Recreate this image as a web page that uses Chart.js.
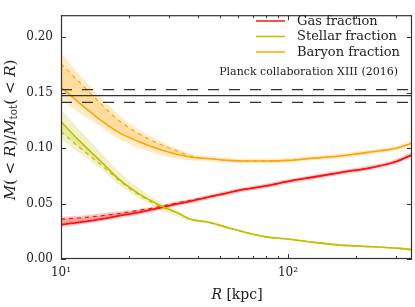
<!DOCTYPE html>
<html><head><meta charset="utf-8">
<script src="https://cdn.jsdelivr.net/npm/chart.js@4"></script>
<style>html,body{margin:0;padding:0;background:#fff}canvas{display:block}</style>
</head><body>
<canvas id="c" width="415" height="307"></canvas>
<script>
// ---------- data ----------
const R = [10, 12, 15, 18, 22, 27, 33, 37, 45, 55, 65, 80, 100, 130, 170, 240, 300, 352];

const GAS        = [0.031, 0.033, 0.036, 0.039, 0.042, 0.046, 0.050, 0.052, 0.056, 0.060, 0.063, 0.066, 0.070, 0.074, 0.078, 0.083, 0.088, 0.094];
const GAS_ALT    = [0.036, 0.037, 0.039, 0.041, 0.044, 0.047, 0.051, 0.053, 0.056, 0.060, 0.063, 0.066, 0.070, 0.074, 0.078, 0.083, 0.088, 0.094];
const GAS_HI     = [0.038, 0.039, 0.041, 0.043, 0.045, 0.048, 0.052, 0.054, 0.058, 0.062, 0.065, 0.068, 0.072, 0.076, 0.080, 0.085, 0.090, 0.097];
const GAS_LO     = [0.029, 0.031, 0.034, 0.037, 0.040, 0.044, 0.048, 0.050, 0.054, 0.058, 0.061, 0.064, 0.068, 0.072, 0.076, 0.081, 0.086, 0.092];

const STAR       = [0.124, 0.107, 0.088, 0.072, 0.059, 0.049, 0.041, 0.036, 0.033, 0.028, 0.024, 0.020, 0.018, 0.015, 0.0125, 0.011, 0.0098, 0.0085];
const STAR_ALT   = [0.115, 0.101, 0.085, 0.071, 0.058, 0.048, 0.041, 0.036, 0.033, 0.028, 0.024, 0.020, 0.018, 0.015, 0.0125, 0.011, 0.0098, 0.0085];
const STAR_HI    = [0.135, 0.117, 0.096, 0.079, 0.064, 0.052, 0.043, 0.037, 0.0345, 0.029, 0.025, 0.021, 0.019, 0.016, 0.0135, 0.012, 0.0108, 0.0095];
const STAR_LO    = [0.108, 0.096, 0.081, 0.067, 0.055, 0.045, 0.038, 0.034, 0.0318, 0.027, 0.023, 0.019, 0.017, 0.014, 0.0115, 0.010, 0.0088, 0.0075];

const BARY       = [0.155, 0.141, 0.125, 0.114, 0.106, 0.099, 0.094, 0.092, 0.0905, 0.089, 0.0885, 0.0885, 0.089, 0.091, 0.093, 0.097, 0.100, 0.1045];
const BARY_ALT   = [0.176, 0.160, 0.140, 0.125, 0.113, 0.104, 0.097, 0.093, 0.0905, 0.089, 0.0885, 0.0885, 0.089, 0.091, 0.093, 0.097, 0.100, 0.1045];
const BARY_HI    = [0.186, 0.167, 0.146, 0.130, 0.117, 0.107, 0.099, 0.095, 0.093, 0.091, 0.0905, 0.0905, 0.091, 0.093, 0.095, 0.099, 0.102, 0.107];
const BARY_LO    = [0.143, 0.132, 0.119, 0.108, 0.100, 0.094, 0.090, 0.089, 0.088, 0.087, 0.0865, 0.0865, 0.087, 0.089, 0.091, 0.095, 0.098, 0.102];

const PLANCK_R   = [10, 352];
const PLANCK_MID = 0.1474;
const PLANCK_HI  = 0.1528;
const PLANCK_LO  = 0.1414;

const X_TICKS = [10, 20, 30, 40, 50, 60, 70, 80, 90, 100, 200, 300];
const X_MAJOR = [10, 100];
const X_LABELS = {10: '10¹', 100: '10²'};
const Y_TICKS = [0, 0.05, 0.10, 0.15, 0.20];

const LEGEND = ['Gas fraction', 'Stellar fraction', 'Baryon fraction'];
const ANNOT = 'Planck collaboration XIII (2016)';

// ---------- helpers ----------
const RED = '#ff1010', OLIVE = '#bfbf00', ORANGE = '#ffa500';
const pts = arr => arr.map((v, i) => ({x: R[i], y: v}));
const flat = (xs, v) => xs.map(x => ({x, y: v}));

function line(data, color, width, dash, order, fillTo, fillColor) {
  return {data: pts(data), borderColor: color, borderWidth: width, borderDash: dash || [],
    pointRadius: 0, fill: fillTo === undefined ? false : fillTo, backgroundColor: fillColor || 'transparent',
    cubicInterpolationMode: 'monotone', order: order};
}
function band(hi, lo, color) {
  return [
    {data: pts(hi), borderColor: 'transparent', borderWidth: 0, backgroundColor: color,
     pointRadius: 0, fill: '+1', cubicInterpolationMode: 'monotone', order: 5},
    {data: pts(lo), borderColor: 'transparent', borderWidth: 0, pointRadius: 0, fill: false,
     cubicInterpolationMode: 'monotone', order: 5}
  ];
}

const datasets = [
  ...band(BARY_HI, BARY_LO, 'rgba(255,165,0,0.22)'),
  ...band(STAR_HI, STAR_LO, 'rgba(191,191,0,0.22)'),
  ...band(GAS_HI, GAS_LO, 'rgba(255,0,0,0.22)'),
  line(BARY, ORANGE, 1.6, [], 1, '+1', 'rgba(255,165,0,0.2)'),
  line(BARY_ALT, ORANGE, 1.2, [4, 4], 1),
  line(STAR, OLIVE, 1.6, [], 1, '+1', 'rgba(191,191,0,0.2)'),
  line(STAR_ALT, OLIVE, 1.2, [4, 4], 1),
  line(GAS, RED, 1.8, [], 1, '+1', 'rgba(255,0,0,0.2)'),
  line(GAS_ALT, RED, 1.2, [4, 4], 1),
  {data: flat(PLANCK_R, PLANCK_MID), borderColor: '#333', borderWidth: 1.2, pointRadius: 0, fill: false, order: 0},
  {data: flat(PLANCK_R, PLANCK_HI), borderColor: '#333', borderWidth: 1.2, borderDash: [11, 10], pointRadius: 0, fill: false, order: 0},
  {data: flat(PLANCK_R, PLANCK_LO), borderColor: '#333', borderWidth: 1.2, borderDash: [11, 10], pointRadius: 0, fill: false, order: 0}
];

const SERIF = '"DejaVu Serif", serif';

function richWidth(ctx, parts) {
  let w = 0;
  for (const p of parts) { ctx.font = p.f; w += ctx.measureText(p.t).width; }
  return w;
}
function drawRich(ctx, parts, cx, cy) {
  const w = richWidth(ctx, parts);
  let x = cx - w / 2;
  ctx.textBaseline = 'middle';
  ctx.textAlign = 'left';
  for (const p of parts) {
    ctx.font = p.f;
    ctx.fillText(p.t, x, cy + (p.dy || 0));
    x += ctx.measureText(p.t).width;
  }
}

const overlay = {
  id: 'overlay',
  afterDraw(chart) {
    const {ctx, chartArea: a, scales: {x, y}} = chart;
    ctx.save();
    ctx.strokeStyle = '#333';
    ctx.lineWidth = 1.2;
    ctx.strokeRect(a.left + 0.5, a.top + 0.5, a.right - a.left - 1, a.bottom - a.top - 1);
    ctx.lineWidth = 1;
    ctx.beginPath();
    for (const v of X_TICKS) {
      const px = Math.round(x.getPixelForValue(v)) + 0.5;
      const L = X_MAJOR.includes(v) ? 5 : 3;
      ctx.moveTo(px, a.bottom); ctx.lineTo(px, a.bottom - L);
      ctx.moveTo(px, a.top); ctx.lineTo(px, a.top + L);
    }
    for (const v of Y_TICKS) {
      const py = Math.round(y.getPixelForValue(v)) + 0.5;
      ctx.moveTo(a.left, py); ctx.lineTo(a.left + 5, py);
      ctx.moveTo(a.right, py); ctx.lineTo(a.right - 5, py);
    }
    ctx.stroke();

    // annotation
    ctx.fillStyle = '#222';
    ctx.font = '11px ' + SERIF;
    ctx.textAlign = 'right';
    ctx.textBaseline = 'middle';
    ctx.fillText(ANNOT, 398, 72);

    // legend
    const cols = [RED, OLIVE, ORANGE];
    const ys = [21, 36.5, 52];
    ctx.font = '13px ' + SERIF;
    ctx.textAlign = 'left';
    for (let i = 0; i < 3; i++) {
      ctx.strokeStyle = cols[i];
      ctx.lineWidth = 1.5;
      ctx.beginPath(); ctx.moveTo(256, ys[i]); ctx.lineTo(285, ys[i]); ctx.stroke();
      ctx.fillStyle = '#222';
      ctx.fillText(LEGEND[i], 297, ys[i] + 0.5);
    }

    // x title
    ctx.fillStyle = '#222';
    drawRich(ctx, [
      {t: 'R', f: 'italic 14px ' + SERIF},
      {t: ' [kpc]', f: '14px ' + SERIF}
    ], 237, 295);

    // y title
    ctx.save();
    ctx.translate(11, 130);
    ctx.rotate(-Math.PI / 2);
    const it = 'italic 15px ' + SERIF, rm = '15px ' + SERIF, sm = '10.5px ' + SERIF;
    drawRich(ctx, [
      {t: 'M', f: it}, {t: '(', f: rm}, {t: ' < ', f: rm}, {t: 'R', f: it}, {t: ')/', f: rm},
      {t: 'M', f: it}, {t: 'tot', f: sm, dy: 3}, {t: '(', f: rm}, {t: ' < ', f: rm}, {t: 'R', f: it}, {t: ')', f: rm}
    ], 0, 0);
    ctx.restore();
    ctx.restore();
  }
};

new Chart(document.getElementById('c'), {
  type: 'line',
  data: {datasets},
  options: {
    responsive: false,
    animation: false,
    devicePixelRatio: 1,
    layout: {padding: {top: 3, right: 3, left: 0, bottom: 0}},
    plugins: {legend: {display: false}, tooltip: {enabled: false}},
    scales: {
      x: {
        type: 'logarithmic', min: 10, max: 352,
        afterBuildTicks: s => { s.ticks = X_TICKS.map(v => ({value: v, major: X_MAJOR.includes(v)})); },
        afterFit: s => { s.height = 48; },
        grid: {display: false, drawTicks: false},
        border: {display: false},
        ticks: {autoSkip: false, maxRotation: 0, padding: 7, color: '#222',
          font: {family: SERIF, size: 12},
          callback: v => X_LABELS[v] || ''}
      },
      y: {
        min: 0, max: 0.22,
        afterBuildTicks: s => { s.ticks = Y_TICKS.map(v => ({value: v})); },
        afterFit: s => { s.width = 61; },
        grid: {display: false, drawTicks: false},
        border: {display: false},
        ticks: {padding: 8, color: '#222', font: {family: SERIF, size: 12},
          callback: v => v.toFixed(2)}
      }
    }
  },
  plugins: [overlay]
});
</script>
</body></html>
